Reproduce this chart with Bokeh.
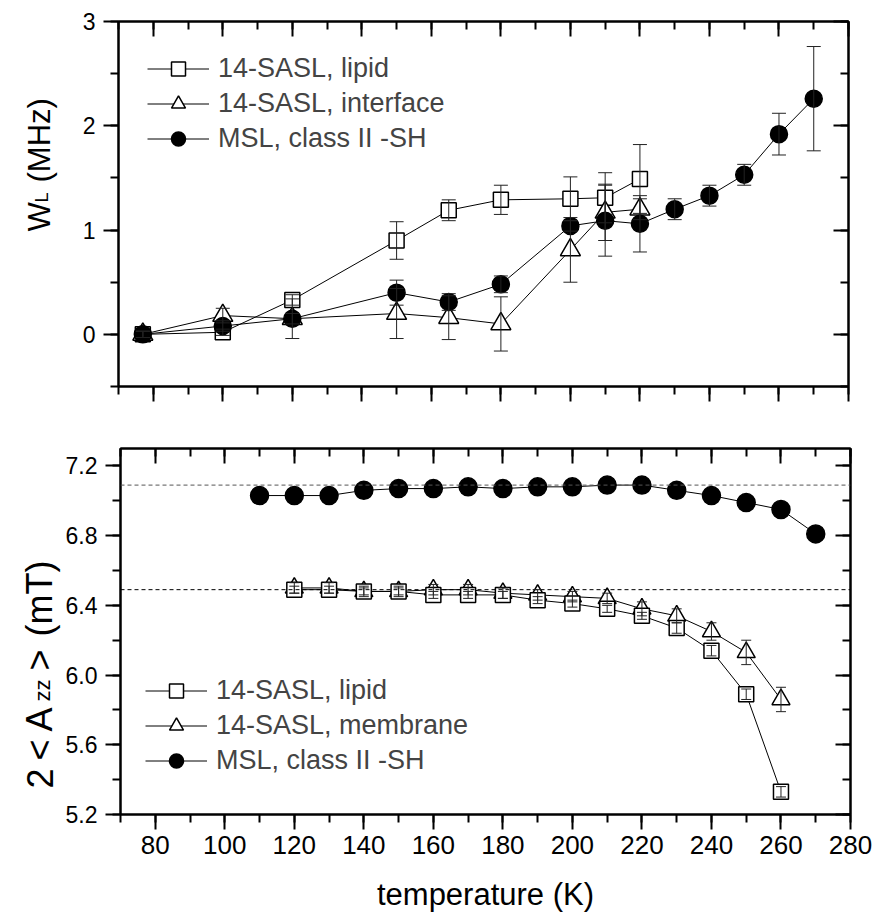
import math
from bokeh.plotting import figure
from bokeh.models import (Range1d, SingleIntervalTicker, LinearAxis, Whisker, ColumnDataSource,
                          Legend, LegendItem, Span, TeeHead, CustomLabelingPolicy,
                          PrintfTickFormatter)
from bokeh.core.properties import value
from bokeh.layouts import column, row
from bokeh.embed import file_html
from bokeh.resources import INLINE

FONT = "Liberation Sans"

# ---------------- top panel data: W_L (MHz) ----------------
T_lip_top = [77, 100, 120, 150, 165, 180, 200, 210, 220]
W_lip = [0.0, 0.02, 0.33, 0.90, 1.19, 1.29, 1.30, 1.31, 1.49]
W_lip_err = [0.03, 0.03, 0.05, 0.18, 0.10, 0.14, 0.21, 0.24, 0.33]

T_int_top = [77, 100, 120, 150, 165, 180, 200, 210, 220]
W_int = [0.0, 0.18, 0.15, 0.20, 0.16, 0.10, 0.81, 1.17, 1.20]
W_int_err = [0.03, 0.07, 0.19, 0.24, 0.21, 0.26, 0.31, 0.27, 0.10]

T_msl_top = [77, 100, 120, 150, 165, 180, 200, 210, 220, 230, 240, 250, 260, 270]
W_msl = [0.0, 0.08, 0.15, 0.40, 0.31, 0.48, 1.04, 1.09, 1.06, 1.20, 1.33, 1.53, 1.92, 2.26]
W_msl_err = [0.03, 0.05, 0.05, 0.12, 0.08, 0.08, 0.05, 0.34, 0.27, 0.10, 0.10, 0.10, 0.20, 0.50]

# ---------------- bottom panel data: 2<Azz> (mT) ----------------
T_lip_bot = [120, 130, 140, 150, 160, 170, 180, 190, 200, 210, 220, 230, 240, 250, 260]
A_lip = [6.49, 6.49, 6.48, 6.48, 6.46, 6.46, 6.46, 6.43, 6.41, 6.38, 6.34, 6.27, 6.14, 5.89, 5.33]
A_lip_err = [0.02, 0.02, 0.02, 0.02, 0.02, 0.02, 0.02, 0.02, 0.02, 0.02, 0.02, 0.03, 0.03, 0.03, 0.03]

T_mem_bot = [120, 130, 140, 150, 160, 170, 180, 190, 200, 210, 220, 230, 240, 250, 260]
A_mem = [6.50, 6.50, 6.48, 6.48, 6.49, 6.49, 6.47, 6.46, 6.45, 6.44, 6.38, 6.34, 6.25, 6.13, 5.86]
A_mem_err = [0.03, 0.03, 0.03, 0.03, 0.03, 0.03, 0.03, 0.03, 0.03, 0.03, 0.04, 0.04, 0.05, 0.07, 0.07]

T_msl_bot = [110, 120, 130, 140, 150, 160, 170, 180, 190, 200, 210, 220, 230, 240, 250, 260, 270]
A_msl = [7.03, 7.03, 7.03, 7.06, 7.07, 7.07, 7.08, 7.07, 7.08, 7.08, 7.09, 7.09, 7.06, 7.03, 6.99, 6.95, 6.81]

ref_levels = [7.09, 6.49]
ref_colors = ["#555555", "#000000"]

x_ticks = dict(interval=20, num_minor_ticks=2)

labels_top = ["14-SASL, lipid", "14-SASL, interface", "MSL, class II -SH"]
labels_bot = ["14-SASL, lipid", "14-SASL, membrane", "MSL, class II -SH"]
x_title = "temperature (K)"

# vertical titles, in pieces: (text, font size, baseline x, start y) inside the title strip
ytitle_top = [("W", "31px", 39, 207), ("L", "18px", 41.5, 236), ("(MHz)", "31px", 39, 256)]
ytitle_bot = [("2", "36px", 39, 162), ("<", "36px", 39, 190), ("A", "36px", 39, 219),
              ("zz", "22px", 41.5, 249), (">", "36px", 39, 280), ("(mT)", "36px", 39, 314)]

LEFT_W = 62      # width of the strip holding the vertical titles
TOP_B = 21       # border above the upper frame
TOP_H = TOP_B + 365 + 31
BOT_H = 31 + 366 + 105


def no_labels():
    return CustomLabelingPolicy(code="return []")


def style_axis(ax, show_labels, inward, font_size="23px", standoff=8):
    ax.axis_line_width = 2
    ax.axis_line_color = "black"
    ax.major_tick_line_width = 2
    ax.minor_tick_line_width = 2
    ax.major_tick_line_color = "black"
    ax.minor_tick_line_color = "black"
    if inward:
        ax.major_tick_in, ax.major_tick_out = 15, 0
        ax.minor_tick_in, ax.minor_tick_out = 8, 0
    else:
        ax.major_tick_in, ax.major_tick_out = 0, 15
        ax.minor_tick_in, ax.minor_tick_out = 0, 8
    ax.major_label_text_font = FONT
    ax.major_label_text_color = "black"
    if show_labels:
        ax.major_label_text_font_size = font_size
        ax.major_label_standoff = standoff
    else:
        ax.major_label_text_font_size = "6px"
        ax.major_label_standoff = 0
        ax.major_label_policy = no_labels()
    ax.axis_label = None


def make_fig(yr, yint, frame_h, top, bottom, xlabels, yfmt=None):
    p = figure(frame_width=730, frame_height=frame_h,
               x_range=Range1d(70, 280), y_range=Range1d(*yr),
               output_backend="svg", toolbar_location=None,
               min_border_left=118 - LEFT_W, min_border_right=24,
               min_border_top=top, min_border_bottom=bottom,
               background_fill_color="white", border_fill_color="white")
    p.grid.visible = False
    p.outline_line_color = "black"
    p.outline_line_width = 2
    xb = p.below[0]
    yl = p.left[0]
    xb.ticker = SingleIntervalTicker(**x_ticks)
    yl.ticker = SingleIntervalTicker(interval=yint, num_minor_ticks=2)
    if yfmt:
        yl.formatter = PrintfTickFormatter(format=yfmt)
    style_axis(xb, xlabels, False, font_size="26px", standoff=6)
    style_axis(yl, True, False, font_size="23px", standoff=8)
    ax_top = LinearAxis(ticker=SingleIntervalTicker(**x_ticks))
    style_axis(ax_top, False, True)
    p.add_layout(ax_top, "above")
    ax_r = LinearAxis(ticker=SingleIntervalTicker(interval=yint, num_minor_ticks=2))
    style_axis(ax_r, False, True)
    p.add_layout(ax_r, "right")
    return p, xb


def add_series(p, xs, ys, marker, size, fill, errs=None, head=14):
    ln = p.line(xs, ys, line_color="black", line_width=1)
    sc = p.scatter(xs, ys, marker=marker, size=size, fill_color=fill,
                   line_color="black", line_width=1.5)
    if errs is not None:
        src = ColumnDataSource(dict(x=xs,
                                    lo=[v - e for v, e in zip(ys, errs)],
                                    hi=[v + e for v, e in zip(ys, errs)]))
        w = Whisker(source=src, base="x", lower="lo", upper="hi",
                    line_color="#222222", line_width=1, level="overlay",
                    upper_head=TeeHead(size=head, line_color="#222222", line_width=1),
                    lower_head=TeeHead(size=head, line_color="#222222", line_width=1))
        p.add_layout(w)
    return [ln, sc]


def add_legend(p, items, loc):
    leg = Legend(items=[LegendItem(label=l, renderers=r) for l, r in items],
                 location=loc, glyph_width=62, glyph_height=35, label_height=35,
                 spacing=0, padding=0, margin=0, label_standoff=9,
                 label_text_font=FONT, label_text_font_size="27px",
                 border_line_alpha=0, background_fill_alpha=0)
    p.add_layout(leg)


def title_strip(height, pieces):
    t = figure(frame_width=LEFT_W, frame_height=height, x_range=Range1d(0, LEFT_W),
               y_range=Range1d(0, height), output_backend="svg", toolbar_location=None,
               x_axis_type=None, y_axis_type=None, min_border=0,
               min_border_left=0, min_border_right=0, min_border_top=0, min_border_bottom=0,
               background_fill_color="white", border_fill_color="white")
    t.grid.visible = False
    t.outline_line_color = None
    for txt, size, xb, ys in pieces:
        t.text(x=[xb], y=[ys], text=[txt], angle=math.pi / 2,
               text_font=value(FONT), text_font_size=value(size),
               text_align="left", text_baseline="alphabetic", text_color="black")
    return t


# ---------------- top figure ----------------
p1, _ = make_fig((-0.5, 3), 1, 365, TOP_B, 31, False)
r_sq = add_series(p1, T_lip_top, W_lip, "square", 15, "white", W_lip_err)
r_tr = add_series(p1, T_int_top, W_int, "triangle", 20, "white", W_int_err)
r_ci = add_series(p1, T_msl_top, W_msl, "circle", 17, "black", W_msl_err)
add_legend(p1, list(zip(labels_top, [r_sq, r_tr, r_ci])), (29, 230))

# ---------------- bottom figure ----------------
p2, xa = make_fig((5.2, 7.3), 0.4, 366, 31, 105, True, yfmt="%.1f")
for lvl, col in zip(ref_levels, ref_colors):
    p2.add_layout(Span(location=lvl, dimension="width", line_color=col,
                       line_width=1, line_dash="4 3"))
b_tr = add_series(p2, T_mem_bot, A_mem, "triangle", 18, "white", A_mem_err, head=10)
b_sq = add_series(p2, T_lip_bot, A_lip, "square", 15, "white", A_lip_err, head=10)
b_ci = add_series(p2, T_msl_bot, A_msl, "circle", 18, "black")
add_legend(p2, list(zip(labels_bot, [b_sq, b_tr, b_ci])), (25, 36))
xa.axis_label = x_title
xa.axis_label_text_font = FONT
xa.axis_label_text_font_size = "31px"
xa.axis_label_text_font_style = "normal"
xa.axis_label_text_color = "black"
xa.axis_label_standoff = 20

t1 = title_strip(TOP_H, ytitle_top)
t2 = title_strip(BOT_H, ytitle_bot)

layout = column(row(t1, p1, spacing=0), row(t2, p2, spacing=0), spacing=0)
open("out.html", "w").write(file_html(layout, INLINE))
